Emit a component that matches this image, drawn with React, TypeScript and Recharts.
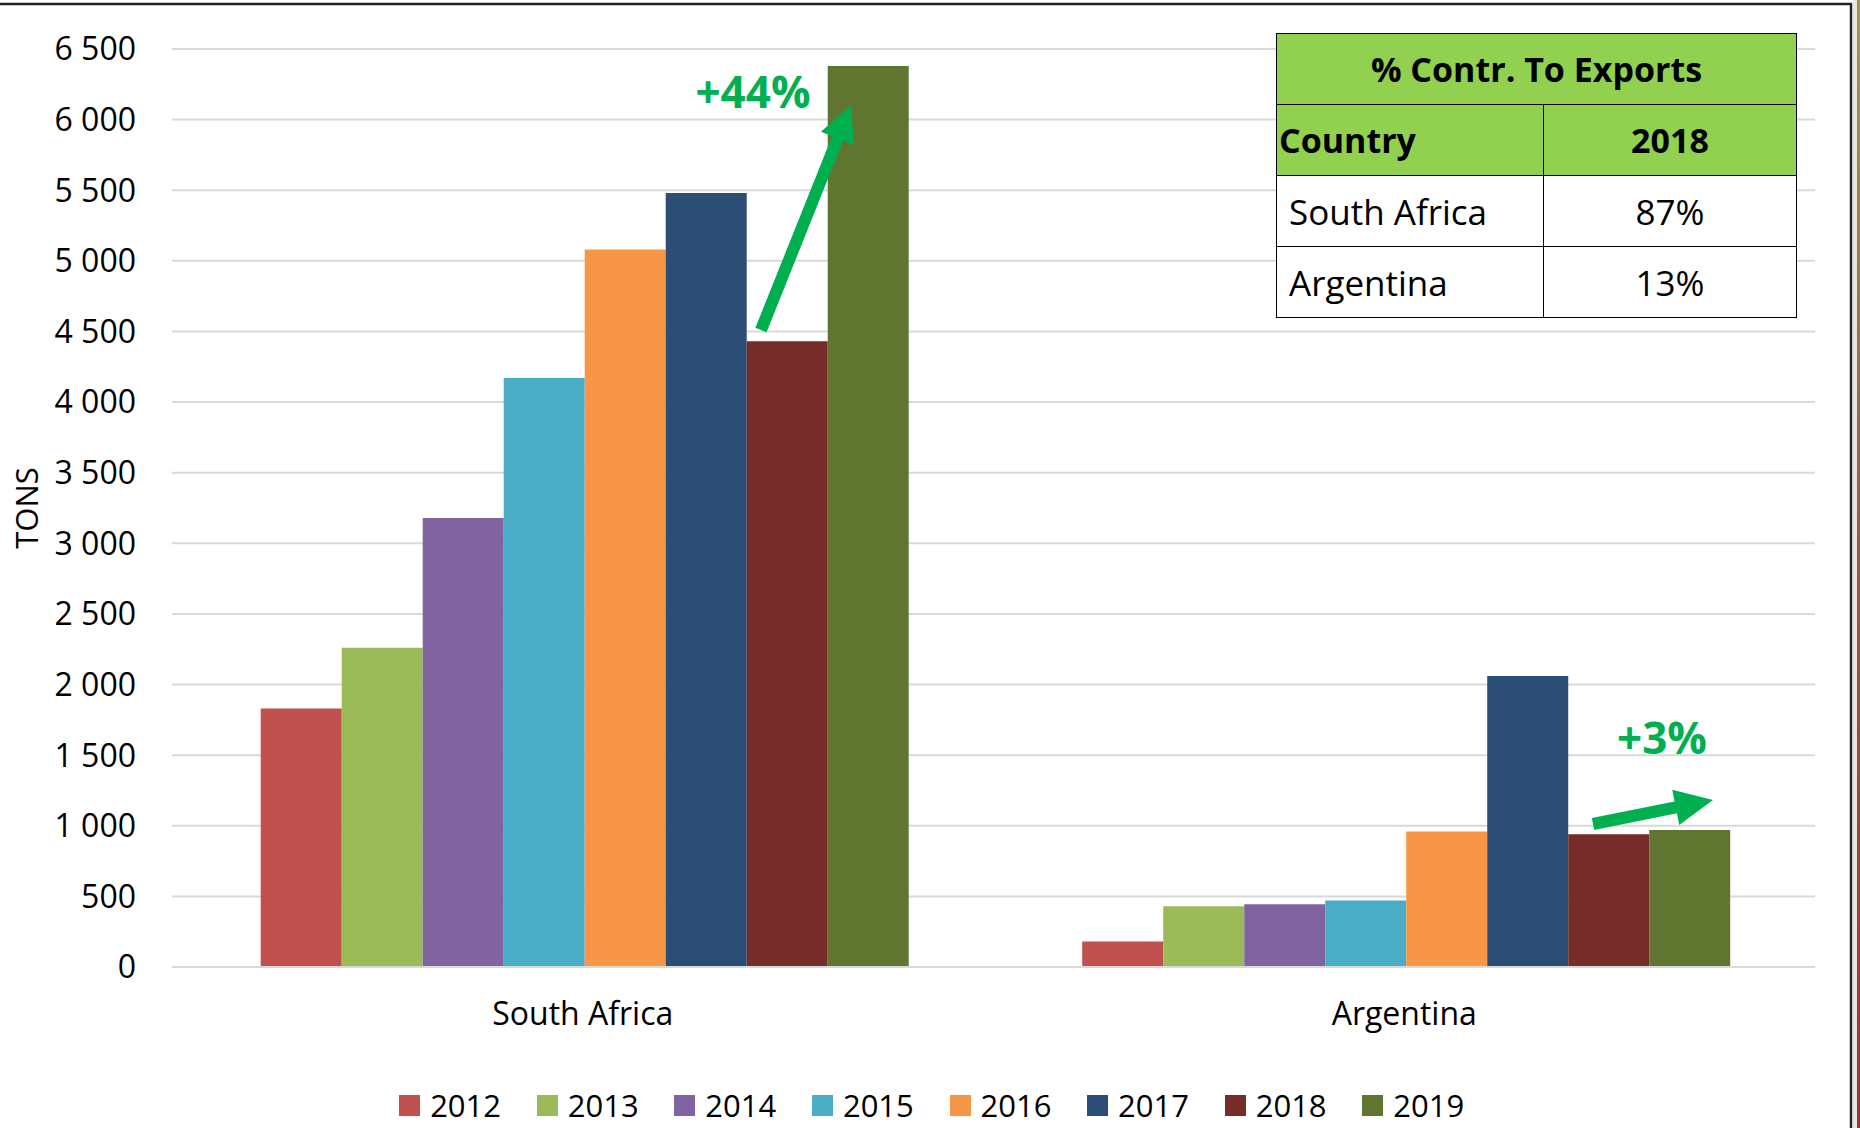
import React from 'react';
import { BarChart, Bar, XAxis, YAxis, CartesianGrid, Legend } from 'recharts';

const countries = ['South Africa', 'Argentina'];
const years = ['2012', '2013', '2014', '2015', '2016', '2017', '2018', '2019'];
const southAfrica = [1830, 2260, 3180, 4170, 5080, 5480, 4430, 6380];
const argentina = [180, 430, 445, 470, 960, 2060, 940, 970];
const yearColors = ['#C0504D', '#9BBB59', '#8064A2', '#4BACC6', '#F79646', '#2C4D75', '#772C2A', '#5F7530'];
const yTicks = [0, 500, 1000, 1500, 2000, 2500, 3000, 3500, 4000, 4500, 5000, 5500, 6000, 6500];

const tableTitle = '% Contr. To Exports';
const tableHead = ['Country', '2018'];
const tableRows = [
  ['South Africa', '87%'],
  ['Argentina', '13%'],
];

const font = '"Open Sans", sans-serif';
const green = '#00B050';

const seriesByCountry = [southAfrica, argentina];
const data = countries.map((country, i) => {
  const row: Record<string, string | number> = { country };
  years.forEach((y, j) => {
    row[y] = seriesByCountry[i][j];
  });
  return row;
});

const fmt = (v: number) => String(v).replace(/\B(?=(\d{3})+(?!\d))/g, ' ');

const LegendContent = () => (
  <div style={{ display: 'flex', justifyContent: 'center', height: 36, alignItems: 'center', paddingLeft: 84 }}>
    {years.map((y, i) => (
      <div key={y} style={{ display: 'flex', alignItems: 'center', width: 137.6, fontFamily: font, fontSize: 31, lineHeight: '32px', color: '#000' }}>
        <span style={{ width: 21, height: 21, background: yearColors[i], marginRight: 10, display: 'inline-block' }} />
        <span>{y}</span>
      </div>
    ))}
  </div>
);

const Arrow = ({ x1, y1, x2, y2, w, headLen, headW }: { x1: number; y1: number; x2: number; y2: number; w: number; headLen: number; headW: number }) => {
  const dx = x2 - x1;
  const dy = y2 - y1;
  const len = Math.hypot(dx, dy);
  const ux = dx / len;
  const uy = dy / len;
  const px = -uy;
  const py = ux;
  const bx = x2 - ux * headLen;
  const by = y2 - uy * headLen;
  const pts = [
    [x1 + px * w / 2, y1 + py * w / 2],
    [bx + px * w / 2, by + py * w / 2],
    [bx + px * headW / 2, by + py * headW / 2],
    [x2, y2],
    [bx - px * headW / 2, by - py * headW / 2],
    [bx - px * w / 2, by - py * w / 2],
    [x1 - px * w / 2, y1 - py * w / 2],
  ];
  return <polygon points={pts.map((p) => p.join(',')).join(' ')} fill={green} />;
};

const cell: React.CSSProperties = { border: '1.5px solid #000', height: 70, padding: 0 };

export default function App() {
  return (
    <div style={{ position: 'absolute', left: 0, top: 0, width: 1860, height: 1128, background: '#fff', overflow: 'hidden' }}>
      <BarChart
        width={1860}
        height={1128}
        data={data}
        margin={{ top: 49, right: 45, left: 0, bottom: 5 }}
        barCategoryGap="10.8%"
        barGap={0}
      >
        <CartesianGrid vertical={false} stroke="#D9D9D9" strokeWidth={2} />
        <XAxis
          dataKey="country"
          height={120}
          tickLine={false}
          axisLine={{ stroke: '#D9D9D9', strokeWidth: 2 }}
          tickMargin={29}
          tick={{ fontFamily: font, fontSize: 32, fill: '#000' }}
        />
        <YAxis
          width={172}
          domain={[0, 6500]}
          ticks={yTicks}
          interval={0}
          tickFormatter={fmt}
          axisLine={false}
          tickLine={false}
          tickSize={8}
          tickMargin={28}
          tick={{ fontFamily: font, fontSize: 32, fill: '#000' }}
          label={{ value: 'TONS', angle: -90, position: 'insideLeft', dx: 22, dy: 0, style: { fontFamily: font, fontSize: 31, fill: '#000', textAnchor: 'middle' } }}
        />
        <Legend verticalAlign="bottom" content={<LegendContent />} />
        {years.map((y, i) => (
          <Bar key={y} dataKey={y} fill={yearColors[i]} isAnimationActive={false} />
        ))}
      </BarChart>

      <svg width={1860} height={1128} style={{ position: 'absolute', left: 0, top: 0, pointerEvents: 'none' }}>
        <defs>
          <linearGradient id="edge" x1="0" y1="0" x2="0" y2="1">
            <stop offset="0" stopColor="#A8983E" />
            <stop offset="0.5" stopColor="#A2573A" />
            <stop offset="1" stopColor="#A4302C" />
          </linearGradient>
        </defs>
        <rect x={1853} y={0} width={4} height={1128} fill="#E6E6E6" />
        <rect x={1857} y={0} width={3} height={1128} fill="url(#edge)" />
        <line x1={0} y1={4} x2={1852} y2={4} stroke="#222" strokeWidth={2.5} />
        <line x1={1851} y1={3} x2={1851} y2={1128} stroke="#222" strokeWidth={2.5} />
        <Arrow x1={761} y1={330} x2={851} y2={105} w={12} headLen={36} headW={36} />
        <Arrow x1={1593} y1={824} x2={1713} y2={800} w={12} headLen={38} headW={36} />
        <text x={753} y={91} textAnchor="middle" dominantBaseline="central" fontFamily={font} fontWeight={700} fontSize={44} fill={green}>+44%</text>
        <text x={1662} y={737} textAnchor="middle" dominantBaseline="central" fontFamily={font} fontWeight={700} fontSize={44} fill={green}>+3%</text>
      </svg>

      <table style={{ position: 'absolute', left: 1276, top: 33, width: 521, borderCollapse: 'collapse', fontFamily: font, fontSize: 35, color: '#000', background: '#fff' }}>
        <tbody>
          <tr>
            <td colSpan={2} style={{ ...cell, background: '#92D050', textAlign: 'center', fontWeight: 700, fontSize: 34 }}>{tableTitle}</td>
          </tr>
          <tr>
            <td style={{ ...cell, width: 264, background: '#92D050', fontWeight: 700, fontSize: 34, paddingLeft: 2 }}>{tableHead[0]}</td>
            <td style={{ ...cell, background: '#92D050', fontWeight: 700, fontSize: 34, textAlign: 'center' }}>{tableHead[1]}</td>
          </tr>
          {tableRows.map((r) => (
            <tr key={r[0]}>
              <td style={{ ...cell, paddingLeft: 12 }}>{r[0]}</td>
              <td style={{ ...cell, textAlign: 'center' }}>{r[1]}</td>
            </tr>
          ))}
        </tbody>
      </table>
    </div>
  );
}
